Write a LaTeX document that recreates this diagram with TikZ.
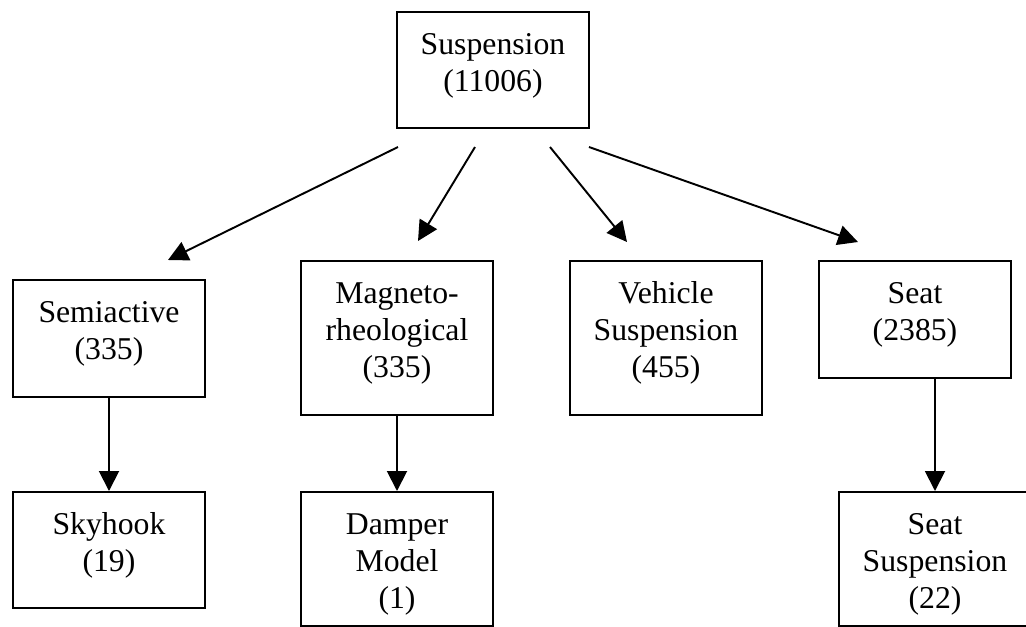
\documentclass[tikz,border=0pt]{standalone}
\usepackage{fontspec}
\setmainfont{Liberation Serif}
\usetikzlibrary{arrows.meta,calc}

\tikzset{
  box/.style={draw, line width=1.5pt, inner sep=0pt, anchor=north west,
              minimum width=144pt},
  boxtext/.style={anchor=base, inner sep=0pt, text width=142pt, align=center,
                  font=\fontsize{23.8pt}{27.75pt}\selectfont},
  link/.style={line width=1.45pt, -{Triangle[length=15pt,width=15pt]}},
}

% name, left, top, height, text (first baseline sits 43 units below the top edge)
\newcommand\labelledbox[5]{%
  \node[box, minimum height=#4*0.75pt] (#1) at (#2,#3) {};
  \node[boxtext] (#1-text) at ($(#1.north)+(0,43)$) {#5};
}

\begin{document}
\begin{tikzpicture}[x=0.75pt,y=-0.75pt]
  \useasboundingbox (0,0) rectangle (1026,626);
  \clip (0,0) rectangle (1026,626);

  % boxes
  \labelledbox{susp}{396}{11}{116}{Suspension\\(11006)}
  \labelledbox{semi}{12}{279}{117}{Semiactive\\(335)}
  \labelledbox{magneto}{300}{260}{154}{Magneto-\\rheological\\(335)}
  \labelledbox{vehicle}{569}{260}{154}{Vehicle\\Suspension\\(455)}
  \labelledbox{seat}{818}{260}{117}{Seat\\(2385)}
  \labelledbox{sky}{12}{491}{116}{Skyhook\\(19)}
  \labelledbox{damper}{300}{491}{133.5}{Damper\\Model\\(1)}
  \labelledbox{seatsusp}{838}{491}{133.5}{Seat\\Suspension\\(22)}

  % free ends of the fan-out arrows
  \coordinate (out-semi)    at ($(susp.south)+(-95,18)$);
  \coordinate (out-magneto) at ($(susp.south)+(-18,18)$);
  \coordinate (out-vehicle) at ($(susp.south)+(57,18)$);
  \coordinate (out-seat)    at ($(susp.south)+(96,18)$);
  \coordinate (in-semi)     at ($(semi.north)+(59,-19)$);
  \coordinate (in-magneto)  at ($(magneto.north)+(21,-19)$);
  \coordinate (in-vehicle)  at ($(vehicle.north)+(-39,-18)$);
  \coordinate (in-seat)     at ($(seat.north)+(-57,-18)$);

  % connectors
  \draw[link] (out-semi) -- (in-semi);
  \draw[link] (out-magneto) -- (in-magneto);
  \draw[link] (out-vehicle) -- (in-vehicle);
  \draw[link] (out-seat) -- (in-seat);
  \draw[link] (semi.south) -- (sky.north);
  \draw[link] (magneto.south) -- (damper.north);
  \draw[link] (seatsusp.north |- seat.south) -- (seatsusp.north);
\end{tikzpicture}
\end{document}
